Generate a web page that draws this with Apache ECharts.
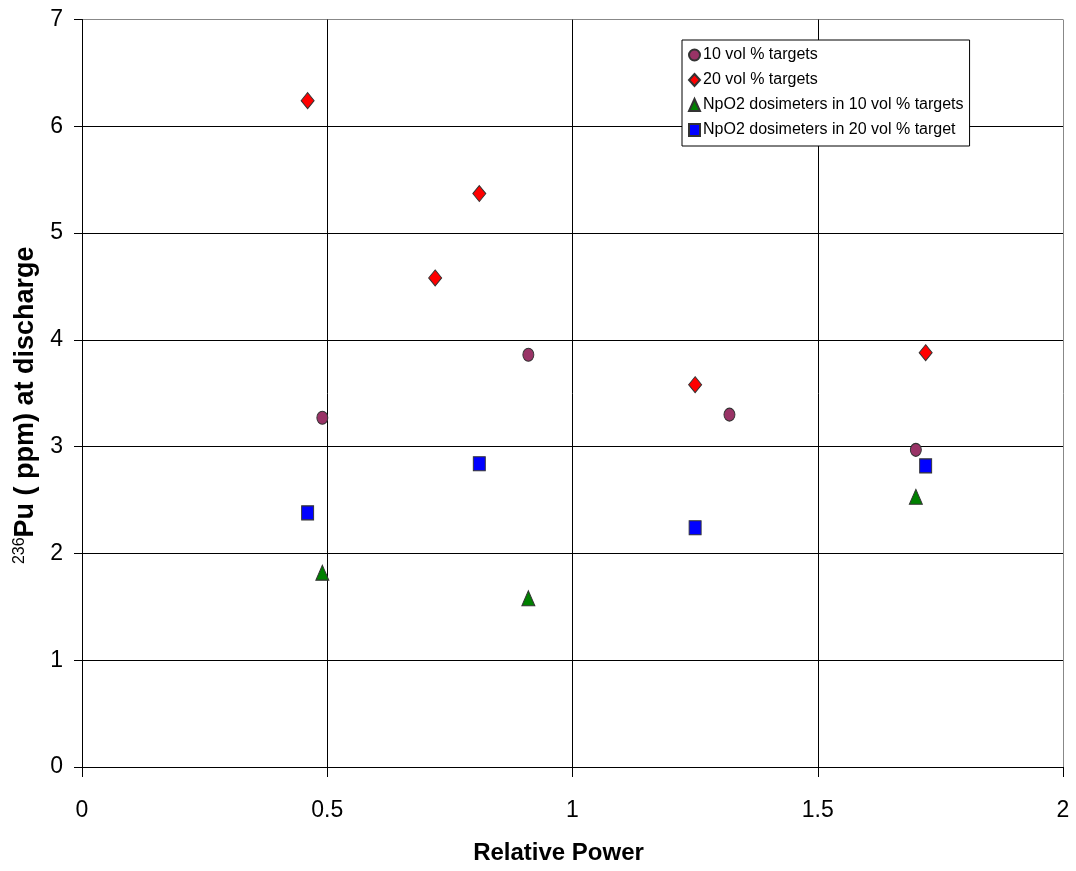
<!DOCTYPE html>
<html>
<head>
<meta charset="utf-8">
<script src="https://cdn.jsdelivr.net/npm/echarts@6/dist/echarts.min.js"></script>
<style>
  html, body { margin: 0; padding: 0; background: #fff; }
  #chart { width: 1076px; height: 871px; }
</style>
</head>
<body>
<div id="chart"></div>
<script>
// values
var seriesNames = [
  "10 vol % targets",
  "20 vol % targets",
  "NpO2 dosimeters in 10 vol % targets",
  "NpO2 dosimeters in 20 vol % target"
];
var tenVolX = [0.49, 0.91, 1.32, 1.70];
var tenVolY = [3.27, 3.86, 3.30, 2.97];
var twentyVolX = [0.46, 0.72, 0.81, 1.25, 1.72];
var twentyVolY = [6.24, 4.58, 5.37, 3.58, 3.88];
var npoTenX = [0.49, 0.91, 1.70];
var npoTenY = [1.82, 1.58, 2.53];
var npoTwentyX = [0.46, 0.81, 1.25, 1.72];
var npoTwentyY = [2.38, 2.84, 2.24, 2.82];

function pairs(xs, ys) {
  return xs.map(function (x, i) { return [x, ys[i]]; });
}

var font = "Liberation Sans, Arial, sans-serif";
var myChart = echarts.init(document.getElementById("chart"));
var option = {
  animation: false,
  backgroundColor: "#fff",
  textStyle: { fontFamily: font },
  grid: { left: 82, right: 13, top: 19.5, bottom: 104, containLabel: false },
  legend: {
    orient: "vertical",
    left: 682,
    top: 40,
    padding: [7, 6, 8, 6],
    itemGap: 9,
    itemWidth: 11,
    itemHeight: 12,
    backgroundColor: "#fff",
    borderColor: "#000",
    borderWidth: 1,
    borderRadius: 0,
    textStyle: { fontFamily: font, fontSize: 16, color: "#000", padding: [0, 0, 0, -2] },
    data: seriesNames
  },
  xAxis: {
    type: "value",
    min: 0,
    max: 2,
    interval: 0.5,
    name: "Relative Power",
    nameLocation: "middle",
    nameGap: 74,
    nameTextStyle: { fontFamily: font, fontSize: 24, fontWeight: "bold", color: "#000", padding: [0, 28, 0, 0] },
    axisLine: { show: true, lineStyle: { color: "#000", width: 1 } },
    axisTick: { show: true, length: 10, lineStyle: { color: "#000" } },
    axisLabel: { fontFamily: font, fontSize: 23, color: "#000", margin: 32 },
    splitLine: { show: true, lineStyle: { color: ["#000", "#000", "#000", "#000", "#888"], width: 1 } }
  },
  yAxis: {
    type: "value",
    min: 0,
    max: 7,
    interval: 1,
    name: "{sup|236}{b|Pu ( ppm) at discharge}",
    nameLocation: "middle",
    nameGap: 36,
    nameTextStyle: {
      color: "#000",
      padding: [0, 0, 0, -24],
      rich: {
        sup: { fontFamily: font, fontSize: 16, color: "#000", verticalAlign: "top", lineHeight: 28 },
        b: { fontFamily: font, fontSize: 27, fontWeight: "bold", color: "#000", lineHeight: 28 }
      }
    },
    axisLine: { show: true, lineStyle: { color: "#000", width: 1 } },
    axisTick: { show: true, length: 8, lineStyle: { color: "#000" } },
    axisLabel: { fontFamily: font, fontSize: 23, color: "#000", margin: 19 },
    splitLine: { show: true, lineStyle: { color: ["#000", "#000", "#000", "#000", "#000", "#000", "#000", "#888"], width: 1 } }
  },
  series: [
    {
      name: seriesNames[0],
      type: "scatter",
      symbol: "circle",
      symbolSize: [11, 13],
      itemStyle: { color: "#993366", borderColor: "#333", borderWidth: 1, opacity: 1 },
      data: pairs(tenVolX, tenVolY)
    },
    {
      name: seriesNames[1],
      type: "scatter",
      symbol: "diamond",
      symbolSize: [13, 16],
      itemStyle: { color: "#ff0000", borderColor: "#333", borderWidth: 1, opacity: 1 },
      data: pairs(twentyVolX, twentyVolY)
    },
    {
      name: seriesNames[2],
      type: "scatter",
      symbol: "triangle",
      symbolSize: [13, 15],
      itemStyle: { color: "#008000", borderColor: "#333", borderWidth: 1, opacity: 1 },
      data: pairs(npoTenX, npoTenY)
    },
    {
      name: seriesNames[3],
      type: "scatter",
      symbol: "rect",
      symbolSize: [12, 14],
      itemStyle: { color: "#0000ff", borderColor: "#333", borderWidth: 1, opacity: 1 },
      data: pairs(npoTwentyX, npoTwentyY)
    }
  ]
};
myChart.setOption(option);
</script>
</body>
</html>
